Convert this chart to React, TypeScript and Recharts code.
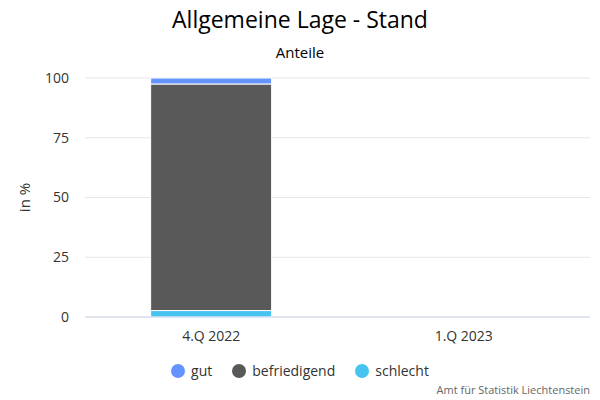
// Stacked bar chart: Allgemeine Lage - Stand (Anteile in %)

import React from 'react';
import { BarChart, Bar, XAxis, YAxis, CartesianGrid, Label } from 'recharts';

const quarters = ['4.Q 2022', '1.Q 2023'];
const gut = [2.5, null];
const befriedigend = [94.8, null];
const schlecht = [2.7, null];
const yTicks = [0, 25, 50, 75, 100];

const seriesInfo = [
  { key: 'gut', name: 'gut', color: '#6694ff' },
  { key: 'befriedigend', name: 'befriedigend', color: '#595959' },
  { key: 'schlecht', name: 'schlecht', color: '#47c3f0' },
];

const chartData = quarters.map((q, i) => ({
  quarter: q,
  gut: gut[i],
  befriedigend: befriedigend[i],
  schlecht: schlecht[i],
}));

const FONT = '"Open Sans", "Noto Sans", sans-serif';

const App: React.FC = () => {
  return (
    <div style={{ position: 'absolute', left: 0, top: 0, width: 600, height: 400, fontFamily: FONT, background: '#fff' }}>
      <div style={{ position: 'absolute', top: 3, width: 600, textAlign: 'center', fontSize: 23, color: '#000' }}>
        Allgemeine Lage - Stand
      </div>
      <div style={{ position: 'absolute', top: 42, width: 600, textAlign: 'center', fontSize: 15, color: '#000' }}>
        Anteile
      </div>

      <BarChart
        width={600}
        height={400}
        data={chartData}
        margin={{ top: 78, right: 10, bottom: 53, left: 0 }}
        barCategoryGap="26%"
      >
        <CartesianGrid vertical={false} stroke="#e6e6e6" />
        <XAxis
          dataKey="quarter"
          height={30}
          axisLine={{ stroke: '#ccd6eb' }}
          tickLine={false}
          tick={{ fill: '#333', fontSize: 14, fontFamily: FONT }}
          tickMargin={8}
        />
        <YAxis
          width={85}
          domain={[0, 100]}
          ticks={yTicks}
          axisLine={false}
          tickLine={false}
          tickSize={0}
          tickMargin={16}
          tick={{ fill: '#333', fontSize: 14, fontFamily: FONT }}
        >
          <Label
            value="in %"
            angle={-90}
            position="insideLeft"
            offset={25}
            style={{ fill: '#333', fontSize: 15, fontFamily: FONT, textAnchor: 'middle' }}
          />
        </YAxis>
        <Bar dataKey="schlecht" name="schlecht" stackId="a" fill="#47c3f0" stroke="#fff" strokeWidth={1} isAnimationActive={false} />
        <Bar dataKey="befriedigend" name="befriedigend" stackId="a" fill="#595959" stroke="#fff" strokeWidth={1} isAnimationActive={false} />
        <Bar dataKey="gut" name="gut" stackId="a" fill="#6694ff" stroke="#fff" strokeWidth={1} isAnimationActive={false} />
      </BarChart>

      {/* legend */}
      <div
        style={{
          position: 'absolute',
          top: 361,
          width: 600,
          display: 'flex',
          justifyContent: 'center',
          fontSize: 14,
          color: '#333',
        }}
      >
        {seriesInfo.map((s) => (
          <div key={s.key} style={{ display: 'flex', alignItems: 'center', margin: '0 10px' }}>
            <span
              style={{
                display: 'inline-block',
                width: 14,
                height: 14,
                borderRadius: '50%',
                background: s.color,
                marginRight: 6,
              }}
            />
            <span>{s.name}</span>
          </div>
        ))}
      </div>

      <div style={{ position: 'absolute', top: 382, right: 10, fontSize: 11, color: '#666' }}>
        Amt für Statistik Liechtenstein
      </div>
    </div>
  );
};

export default App;
